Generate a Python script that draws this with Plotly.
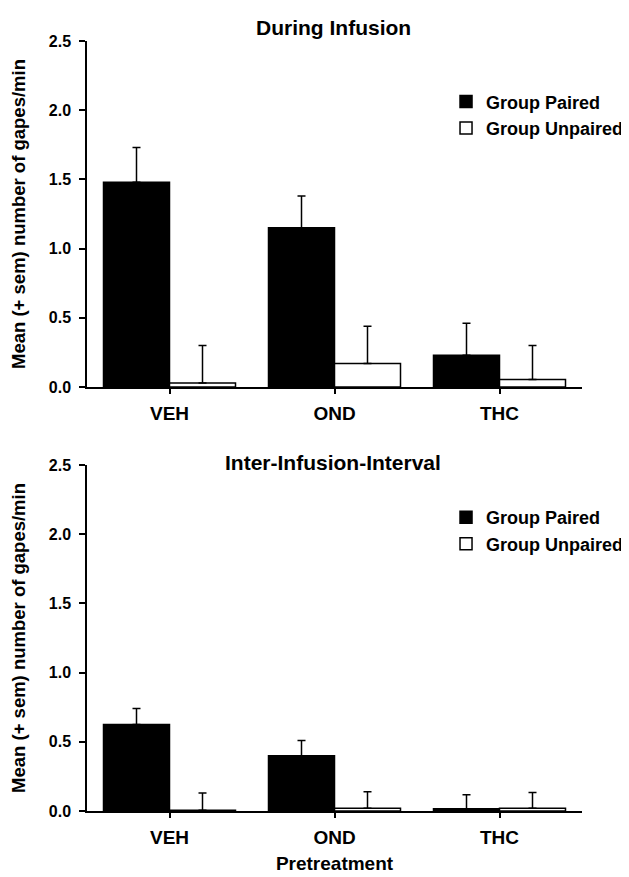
import plotly.graph_objects as go

categories = ["VEH", "OND", "THC"]

# Panel 1: During Infusion
during_paired = [1.48, 1.15, 0.23]
during_paired_sem = [0.25, 0.23, 0.23]
during_unpaired = [0.03, 0.17, 0.055]
during_unpaired_sem = [0.27, 0.27, 0.245]

# Panel 2: Inter-Infusion-Interval
iii_paired = [0.625, 0.40, 0.017]
iii_paired_sem = [0.115, 0.11, 0.10]
iii_unpaired = [0.006, 0.019, 0.02]
iii_unpaired_sem = [0.124, 0.12, 0.113]

y_ticks = [0.0, 0.5, 1.0, 1.5, 2.0, 2.5]
series_names = ["Group Paired", "Group Unpaired"]
panel_titles = ["During Infusion", "Inter-Infusion-Interval"]
y_title = "Mean (+ sem) number of gapes/min"
x_title = "Pretreatment"

FONT = "Liberation Sans, Arial, Helvetica, sans-serif"


def err(vals):
    return dict(type="data", symmetric=False, array=vals,
                arrayminus=[0] * len(vals), color="black",
                thickness=1.5, width=4)


fig = go.Figure()

panels = [
    (during_paired, during_paired_sem, during_unpaired, during_unpaired_sem, "x", "y", "legend"),
    (iii_paired, iii_paired_sem, iii_unpaired, iii_unpaired_sem, "x2", "y2", "legend2"),
]

for p, ps, u, us, xa, ya, lg in panels:
    fig.add_trace(go.Bar(
        x=categories, y=p, name=series_names[0], xaxis=xa, yaxis=ya,
        marker=dict(color="black", line=dict(color="black", width=1.5)),
        error_y=err(ps), legend=lg,
    ))
    fig.add_trace(go.Bar(
        x=categories, y=u, name=series_names[1], xaxis=xa, yaxis=ya,
        marker=dict(color="white", line=dict(color="black", width=1.5)),
        error_y=err(us), legend=lg,
    ))

axis_common = dict(showline=True, linecolor="black", linewidth=1.5,
                   showgrid=False, zeroline=False, ticks="outside",
                   tickcolor="black", tickwidth=1.5, automargin=False)

xaxis_common = dict(axis_common, type="category", range=[-0.5, 2.5], ticklen=5,
                    tickfont=dict(family=FONT, size=19, color="black", weight="bold"),
                    ticklabelstandoff=3)

yaxis_common = dict(axis_common, range=[0, 2.5], tickvals=y_ticks, tickformat=".1f",
                    ticklen=6,
                    tickfont=dict(family=FONT, size=16, color="black", weight="bold"),
                    ticklabelstandoff=5,
                    title=dict(text=y_title, standoff=18,
                               font=dict(family=FONT, size=18.5, color="black", weight="bold")))

top_dom = [0.5506, 1.0]
bot_dom = [0.0, 0.4494]

legend_font = dict(family=FONT, size=18, color="black", weight="bold")

fig.update_layout(
    width=629, height=877,
    margin=dict(l=79, r=55, t=33, b=74, autoexpand=False),
    paper_bgcolor="white", plot_bgcolor="white",
    barmode="group", bargap=0.2, bargroupgap=0,
    font=dict(family=FONT, color="black"),
    xaxis=dict(xaxis_common, domain=[0, 1], anchor="y"),
    yaxis=dict(yaxis_common, domain=top_dom, anchor="x"),
    xaxis2=dict(xaxis_common, domain=[0, 1], anchor="y2",
                title=dict(text=x_title, standoff=10,
                           font=dict(family=FONT, size=19, color="black", weight="bold"))),
    yaxis2=dict(yaxis_common, domain=bot_dom, anchor="x2"),
    legend=dict(x=0.7253, xanchor="left", y=0.945, yanchor="top",
                bgcolor="rgba(0,0,0,0)", tracegroupgap=0, font=legend_font),
    legend2=dict(x=0.7253, xanchor="left", y=0.405, yanchor="top",
                 bgcolor="rgba(0,0,0,0)", tracegroupgap=0, font=legend_font),
    showlegend=True,
    annotations=[
        dict(text=panel_titles[0], x=0.497, y=1.0169, xref="paper", yref="paper",
             xanchor="center", yanchor="middle", showarrow=False,
             font=dict(family=FONT, size=21, color="black", weight="bold")),
        dict(text=panel_titles[1], x=0.497, y=0.452, xref="paper", yref="paper",
             xanchor="center", yanchor="middle", showarrow=False,
             font=dict(family=FONT, size=21, color="black", weight="bold")),
    ],
)

fig.write_html("out.html")
